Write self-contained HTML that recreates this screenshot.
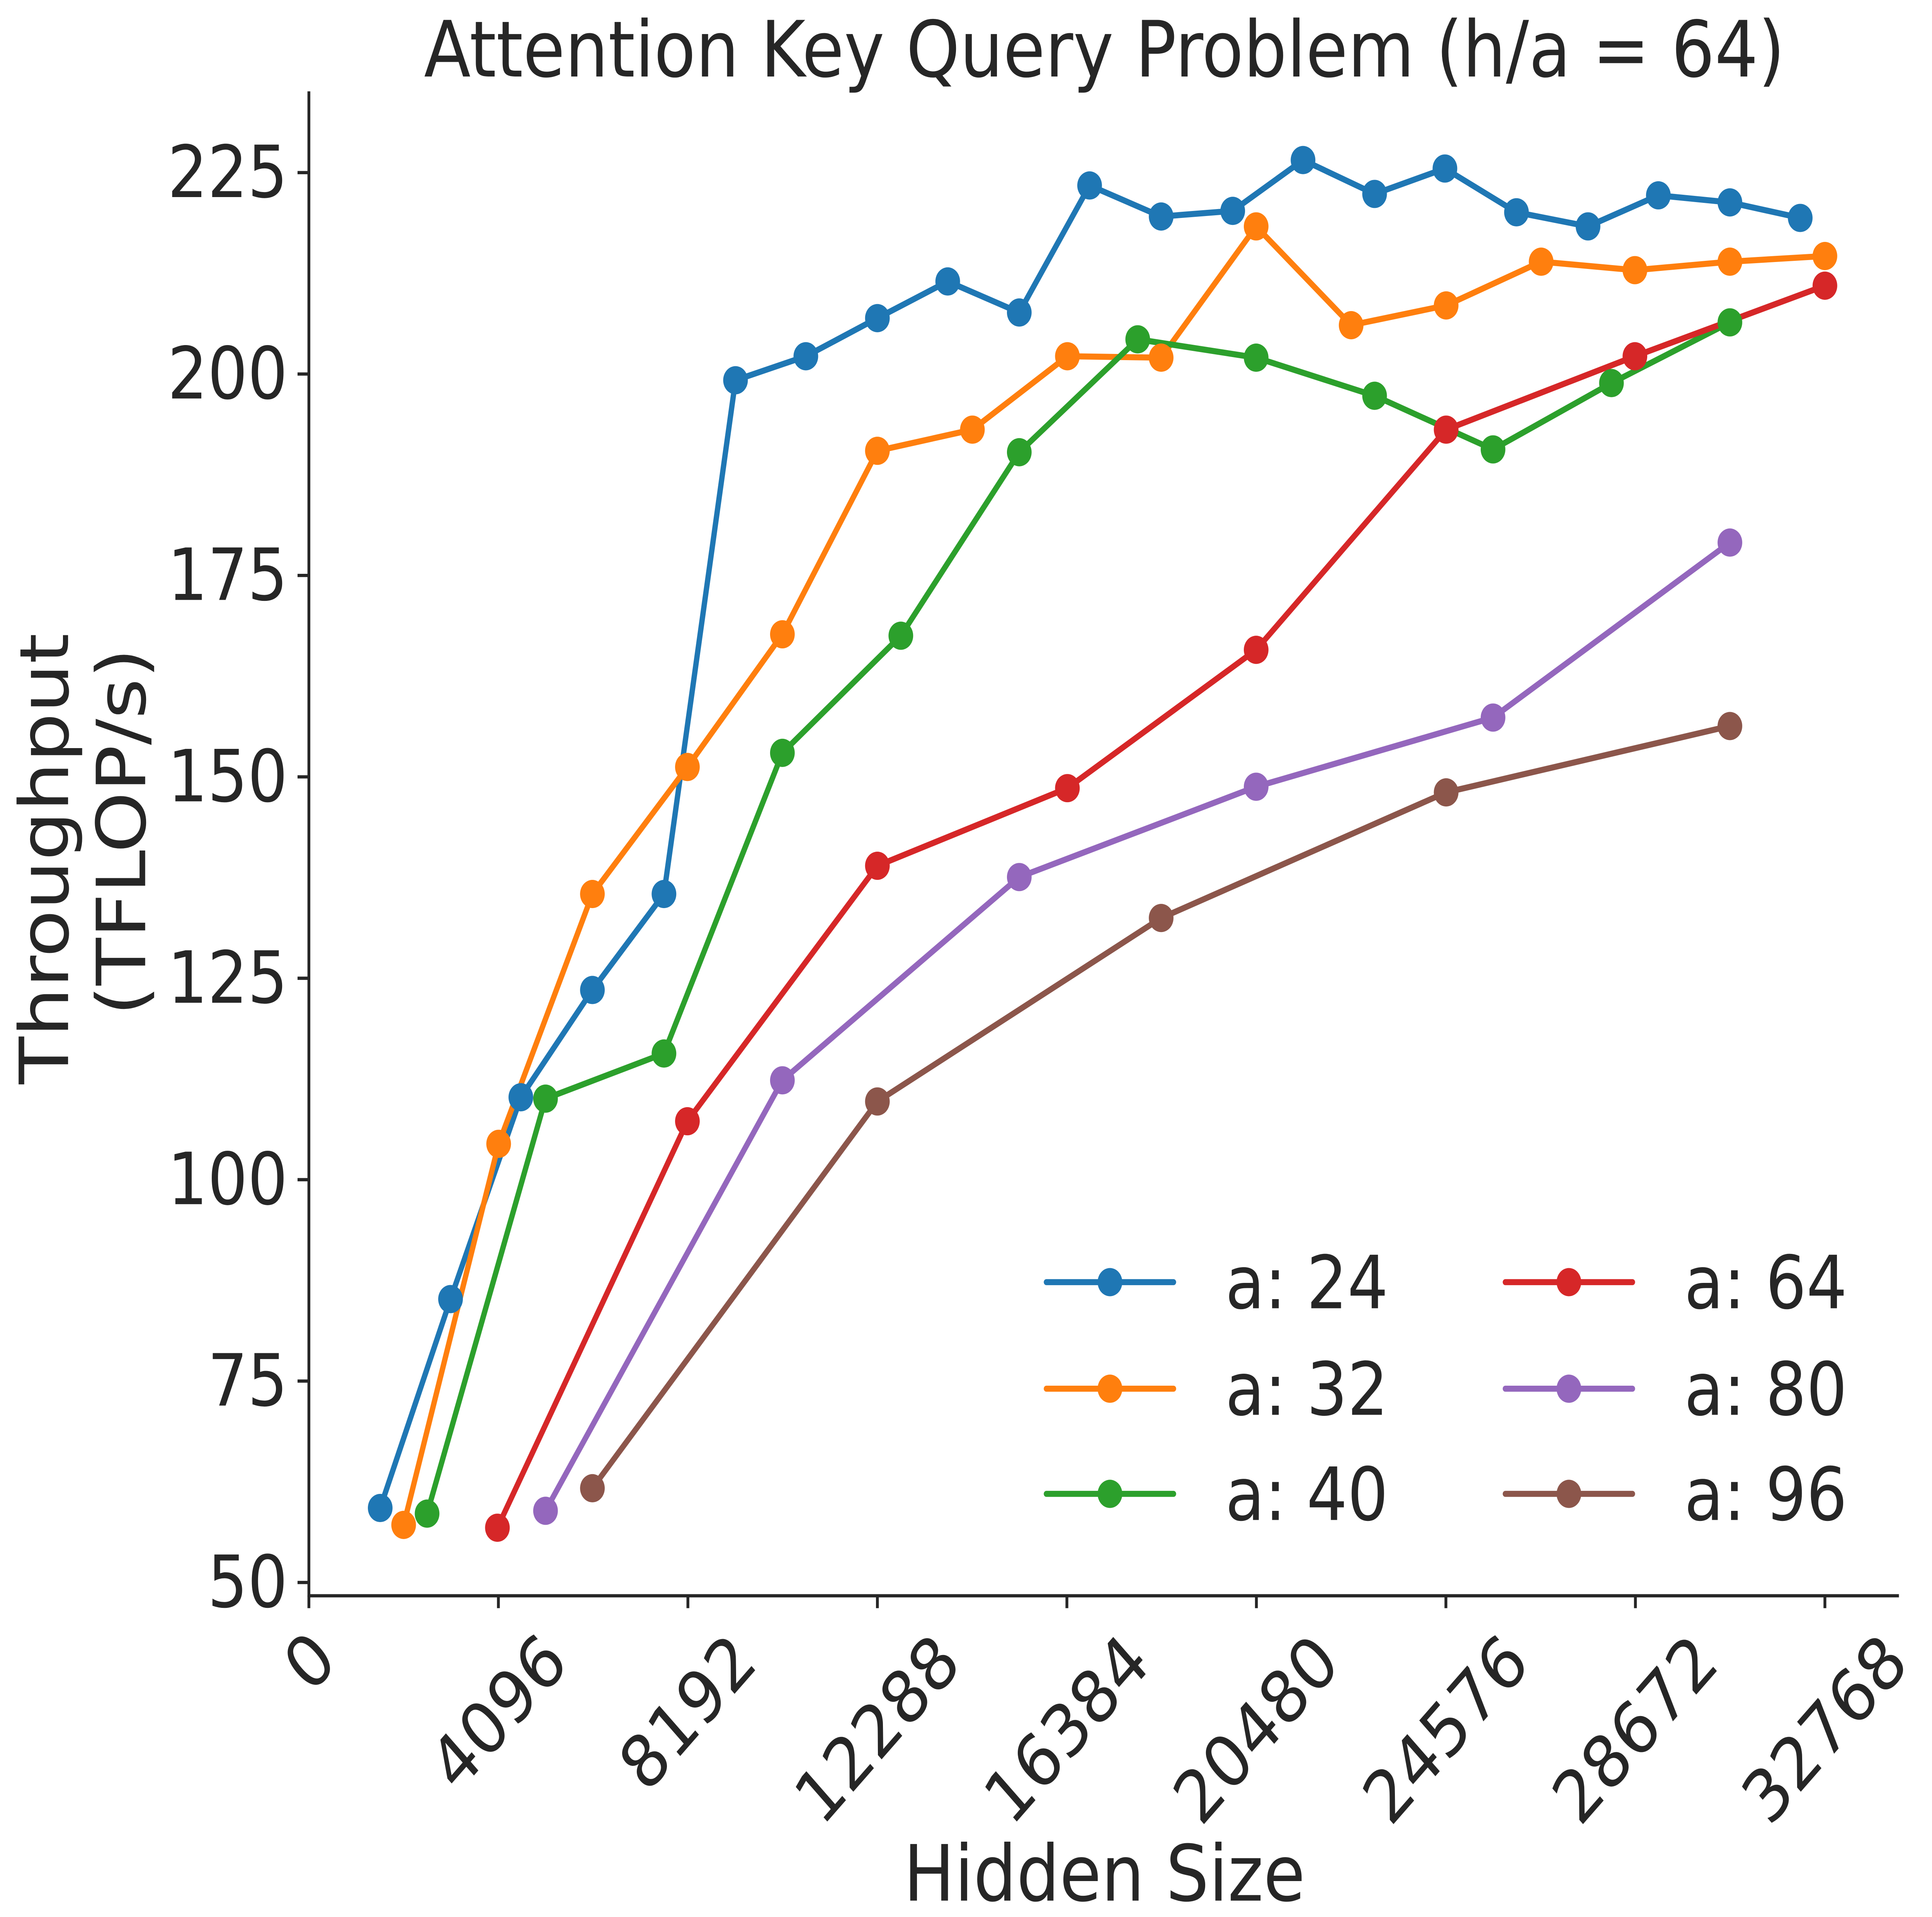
<!DOCTYPE html>
<html><head><meta charset="utf-8"><style>
html,body{margin:0;padding:0;background:#fff;overflow:hidden;}
svg{display:block;}
text{font-family:"DejaVu Sans","Liberation Sans",sans-serif;fill:#262626;}
</style></head><body>
<svg width="5661" height="4961" viewBox="0.83 2.6 1773 1358.2" preserveAspectRatio="none" xmlns="http://www.w3.org/2000/svg">
<rect x="0" y="0" width="1780" height="1380" fill="#fff"/>
<text x="896" y="56.8" font-size="55" text-anchor="middle" textLength="1103" lengthAdjust="spacingAndGlyphs">Attention Key Query Problem (h/a = 64)</text>
<g stroke="#262626" stroke-width="2.3" fill="none">
<line x1="251.2" y1="67.3" x2="251.2" y2="1134"/>
<line x1="250.2" y1="1133.2" x2="1540" y2="1133.2"/>
<g>
<line x1="242" y1="1123.8" x2="251" y2="1123.8"/>
<line x1="242" y1="981.1" x2="251" y2="981.1"/>
<line x1="242" y1="838.4" x2="251" y2="838.4"/>
<line x1="242" y1="695.7" x2="251" y2="695.7"/>
<line x1="242" y1="553" x2="251" y2="553"/>
<line x1="242" y1="410.3" x2="251" y2="410.3"/>
<line x1="242" y1="267.6" x2="251" y2="267.6"/>
<line x1="242" y1="124.9" x2="251" y2="124.9"/>
</g>
<g>
<line x1="251.2" y1="1133" x2="251.2" y2="1142"/>
<line x1="404.8" y1="1133" x2="404.8" y2="1142"/>
<line x1="558.4" y1="1133" x2="558.4" y2="1142"/>
<line x1="712" y1="1133" x2="712" y2="1142"/>
<line x1="865.6" y1="1133" x2="865.6" y2="1142"/>
<line x1="1019.2" y1="1133" x2="1019.2" y2="1142"/>
<line x1="1172.8" y1="1133" x2="1172.8" y2="1142"/>
<line x1="1326.4" y1="1133" x2="1326.4" y2="1142"/>
<line x1="1480" y1="1133" x2="1480" y2="1142"/>
</g>
</g>
<g font-size="51" text-anchor="end" dominant-baseline="central">
<text x="234" y="1123.8">50</text>
<text x="234" y="981.1">75</text>
<text x="234" y="838.4">100</text>
<text x="234" y="695.7">125</text>
<text x="234" y="553">150</text>
<text x="234" y="410.3">175</text>
<text x="234" y="267.6">200</text>
<text x="234" y="124.9">225</text>
</g>
<g font-size="51" text-anchor="middle" dominant-baseline="central">
<text transform="translate(252,1180) rotate(-45)">0</text>
<text transform="translate(405,1216) rotate(-45)">4096</text>
<text transform="translate(558.4,1216) rotate(-45)">8192</text>
<text transform="translate(712,1228) rotate(-45)">12288</text>
<text transform="translate(865.6,1228) rotate(-45)">16384</text>
<text transform="translate(1019.2,1228) rotate(-45)">20480</text>
<text transform="translate(1172.8,1228) rotate(-45)">24576</text>
<text transform="translate(1326.4,1228) rotate(-45)">28672</text>
<text transform="translate(1480,1228) rotate(-45)">32768</text>
</g>
<text x="896" y="1349.2" font-size="55" text-anchor="middle">Hidden Size</text>
<text transform="translate(56,611) rotate(-90)" font-size="55" text-anchor="middle">Throughput</text>
<text transform="translate(118.5,592) rotate(-90)" font-size="55" text-anchor="middle">(TFLOP/s)</text>

<g fill="none" stroke-width="4.3" stroke-linejoin="round" stroke-linecap="round">
<polyline stroke="#1f77b4" points="309,1071 366,923 423,780 481,704 539,636 597,272 654,255 712,228 769,202 827,224 884,134 942,156 1000,152 1057,116 1115,140 1172,122 1230,153 1288,163 1345,141 1403,146 1460,157"/>
<polyline stroke="#ff7f0e" points="328,1083 405,813 481,636 558,546 635,452 712,322 789,307 866,255 942,256 1019,163 1096,233 1173,219 1250,188 1326,194 1403,188 1480,184"/>
<polyline stroke="#2ca02c" points="347,1075 443,781 539,749 635,536 731,453 827,323 923,243 1019,256 1115,283 1211,321 1307,274 1403,231"/>
<polyline stroke="#d62728" points="404,1085 558,797 712,616 866,561 1019,463 1173,307 1326,255 1480,205"/>
<polyline stroke="#9467bd" points="443,1073 635,768 827,624 1019,560 1211,511 1403,387"/>
<polyline stroke="#8c564b" points="481,1057 712,783 942,653 1173,564 1403,517"/>
</g>
<g fill="#1f77b4"><circle cx="309" cy="1071" r="10"/><circle cx="366" cy="923" r="10"/><circle cx="423" cy="780" r="10"/><circle cx="481" cy="704" r="10"/><circle cx="539" cy="636" r="10"/><circle cx="597" cy="272" r="10"/><circle cx="654" cy="255" r="10"/><circle cx="712" cy="228" r="10"/><circle cx="769" cy="202" r="10"/><circle cx="827" cy="224" r="10"/><circle cx="884" cy="134" r="10"/><circle cx="942" cy="156" r="10"/><circle cx="1000" cy="152" r="10"/><circle cx="1057" cy="116" r="10"/><circle cx="1115" cy="140" r="10"/><circle cx="1172" cy="122" r="10"/><circle cx="1230" cy="153" r="10"/><circle cx="1288" cy="163" r="10"/><circle cx="1345" cy="141" r="10"/><circle cx="1403" cy="146" r="10"/><circle cx="1460" cy="157" r="10"/></g>
<g fill="#ff7f0e"><circle cx="328" cy="1083" r="10"/><circle cx="405" cy="813" r="10"/><circle cx="481" cy="636" r="10"/><circle cx="558" cy="546" r="10"/><circle cx="635" cy="452" r="10"/><circle cx="712" cy="322" r="10"/><circle cx="789" cy="307" r="10"/><circle cx="866" cy="255" r="10"/><circle cx="942" cy="256" r="10"/><circle cx="1019" cy="163" r="10"/><circle cx="1096" cy="233" r="10"/><circle cx="1173" cy="219" r="10"/><circle cx="1250" cy="188" r="10"/><circle cx="1326" cy="194" r="10"/><circle cx="1403" cy="188" r="10"/><circle cx="1480" cy="184" r="10"/></g>
<g fill="#2ca02c"><circle cx="347" cy="1075" r="10"/><circle cx="443" cy="781" r="10"/><circle cx="539" cy="749" r="10"/><circle cx="635" cy="536" r="10"/><circle cx="731" cy="453" r="10"/><circle cx="827" cy="323" r="10"/><circle cx="923" cy="243" r="10"/><circle cx="1019" cy="256" r="10"/><circle cx="1115" cy="283" r="10"/><circle cx="1211" cy="321" r="10"/><circle cx="1307" cy="274" r="10"/><circle cx="1403" cy="231" r="10"/></g>
<g fill="#d62728"><circle cx="404" cy="1085" r="10"/><circle cx="558" cy="797" r="10"/><circle cx="712" cy="616" r="10"/><circle cx="866" cy="561" r="10"/><circle cx="1019" cy="463" r="10"/><circle cx="1173" cy="307" r="10"/><circle cx="1326" cy="255" r="10"/><circle cx="1480" cy="205" r="10"/></g>
<g fill="#9467bd"><circle cx="443" cy="1073" r="10"/><circle cx="635" cy="768" r="10"/><circle cx="827" cy="624" r="10"/><circle cx="1019" cy="560" r="10"/><circle cx="1211" cy="511" r="10"/><circle cx="1403" cy="387" r="10"/></g>
<g fill="#8c564b"><circle cx="481" cy="1057" r="10"/><circle cx="712" cy="783" r="10"/><circle cx="942" cy="653" r="10"/><circle cx="1173" cy="564" r="10"/><circle cx="1403" cy="517" r="10"/></g>

<g stroke-width="4.3" stroke-linecap="round">
<line x1="849" y1="911" x2="952" y2="911" stroke="#1f77b4"/>
<line x1="849" y1="986.5" x2="952" y2="986.5" stroke="#ff7f0e"/>
<line x1="849" y1="1061" x2="952" y2="1061" stroke="#2ca02c"/>
<line x1="1221" y1="911" x2="1324" y2="911" stroke="#d62728"/>
<line x1="1221" y1="986.5" x2="1324" y2="986.5" stroke="#9467bd"/>
<line x1="1221" y1="1061" x2="1324" y2="1061" stroke="#8c564b"/>
</g>
<circle cx="900.5" cy="911" r="10" fill="#1f77b4"/>
<circle cx="900.5" cy="986.5" r="10" fill="#ff7f0e"/>
<circle cx="900.5" cy="1061" r="10" fill="#2ca02c"/>
<circle cx="1272.5" cy="911" r="10" fill="#d62728"/>
<circle cx="1272.5" cy="986.5" r="10" fill="#9467bd"/>
<circle cx="1272.5" cy="1061" r="10" fill="#8c564b"/>
<g font-size="52">
<text x="994" y="929.5">a: 24</text>
<text x="994" y="1005">a: 32</text>
<text x="994" y="1079.5">a: 40</text>
<text x="1366" y="929.5">a: 64</text>
<text x="1366" y="1005">a: 80</text>
<text x="1366" y="1079.5">a: 96</text>
</g>
</svg>
</body></html>
